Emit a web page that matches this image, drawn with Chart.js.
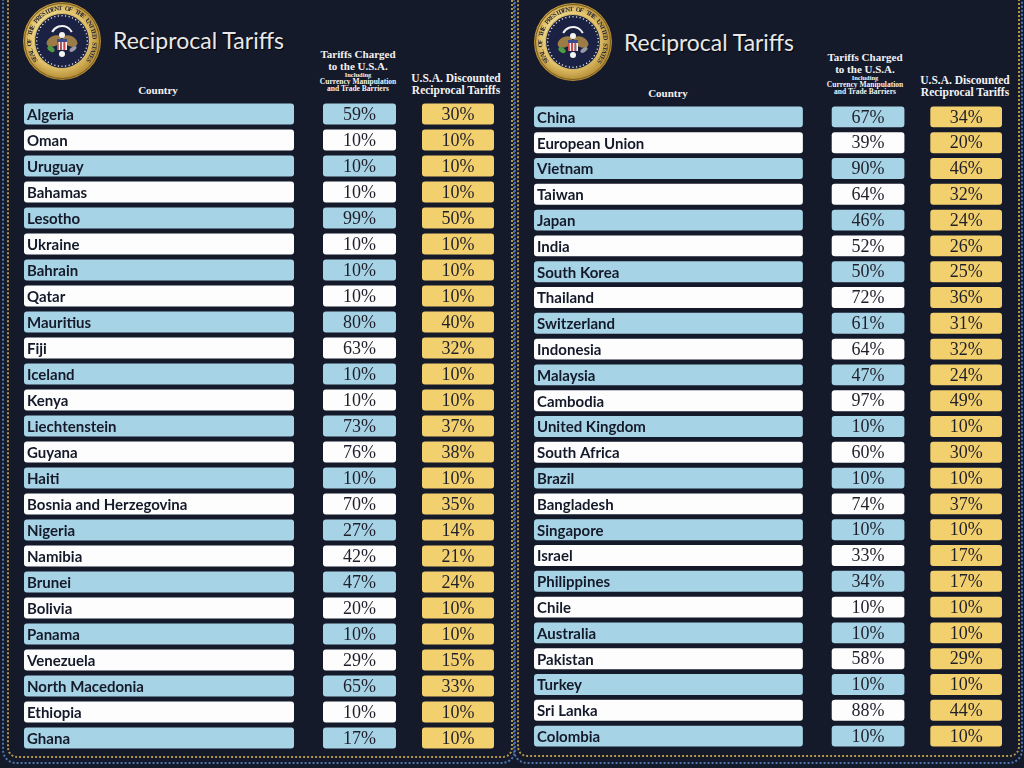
<!DOCTYPE html>
<html>
<head>
<meta charset="utf-8">
<title>Reciprocal Tariffs</title>
<script src="https://cdn.jsdelivr.net/npm/chart.js@4.4.1/dist/chart.umd.min.js"></script>
<style>
  html, body { margin: 0; padding: 0; background: #151a2b; }
  #page { position: relative; width: 1024px; height: 768px; overflow: hidden; background: #151a2b; }
  .frame { position: absolute; box-sizing: border-box; }
  .outer { border: 2px dotted #4d76ad; border-radius: 14px; }
  .inner { border: 2px dotted #b4974d; border-radius: 10px; }
  .hdr { position: absolute; white-space: nowrap; line-height: 1; transform: translate(-50%, -50%);
         color: #f2f2f2; font-family: "Liberation Serif", serif; font-weight: bold; }
  .title { position: absolute; white-space: nowrap; line-height: 1; transform-origin: 0 50%;
           color: #e8e8e8; font-family: Lato, sans-serif; font-size: 24px; text-shadow: 1px 1px 1px #000; }
  canvas { position: absolute; }
</style>
</head>
<body>
<div id="page">
  <div class="frame outer" style="left:2px; top:-30px; width:514px; height:794px;"></div>
  <div class="frame inner" style="left:7px; top:-30px; width:506px; height:788px;"></div>
  <div class="frame outer" style="left:513px; top:-30px; width:510px; height:794px;"></div>
  <div class="frame inner" style="left:517px; top:-30px; width:503px; height:787px;"></div>

  <canvas id="sealLeft" class="seal" width="84" height="84" style="left:20px; top:-1px;"></canvas>
  <canvas id="sealRight" class="seal" width="84" height="84" style="left:531px; top:0px;"></canvas>

  <div id="titleLeft" class="title" style="left:113px; top:40px;">Reciprocal Tariffs</div>
  <div id="titleRight" class="title" style="left:624px; top:42px;">Reciprocal Tariffs</div>

  <div style="position:absolute; left:24px; top:101px; width:470px; height:650px;">
    <canvas id="tableLeft"></canvas>
  </div>
  <div style="position:absolute; left:534px; top:104px; width:468px; height:645px;">
    <canvas id="tableRight"></canvas>
  </div>
</div>

<script>
const leftCountries = [
  "Algeria", "Oman", "Uruguay", "Bahamas", "Lesotho", "Ukraine", "Bahrain", "Qatar",
  "Mauritius", "Fiji", "Iceland", "Kenya", "Liechtenstein", "Guyana", "Haiti",
  "Bosnia and Herzegovina", "Nigeria", "Namibia", "Brunei", "Bolivia", "Panama",
  "Venezuela", "North Macedonia", "Ethiopia", "Ghana"
];
const leftCharged = [59, 10, 10, 10, 99, 10, 10, 10, 80, 63, 10, 10, 73, 76, 10, 70, 27, 42, 47, 20, 10, 29, 65, 10, 17];
const leftDiscounted = [30, 10, 10, 10, 50, 10, 10, 10, 40, 32, 10, 10, 37, 38, 10, 35, 14, 21, 24, 10, 10, 15, 33, 10, 10];

const rightCountries = [
  "China", "European Union", "Vietnam", "Taiwan", "Japan", "India", "South Korea",
  "Thailand", "Switzerland", "Indonesia", "Malaysia", "Cambodia", "United Kingdom",
  "South Africa", "Brazil", "Bangladesh", "Singapore", "Israel", "Philippines", "Chile",
  "Australia", "Pakistan", "Turkey", "Sri Lanka", "Colombia"
];
const rightCharged = [67, 39, 90, 64, 46, 52, 50, 72, 61, 64, 47, 97, 10, 60, 10, 74, 10, 33, 34, 10, 10, 58, 10, 88, 10];
const rightDiscounted = [34, 20, 46, 32, 24, 26, 25, 36, 31, 32, 24, 49, 10, 30, 10, 37, 10, 17, 17, 10, 10, 29, 10, 44, 10];

const LIGHT_BLUE = "#a6d3e5";
const WHITE = "#fdfdfd";
const GOLD = "#f3d06e";
const INK = "#151a2a";

// column extents along the hidden x scale (table layout, not data)
const COLUMN_SPANS = { country: [0, 270], charged: [299, 372], discounted: [398, 470] };

const cellTextPlugin = {
  id: "cellText",
  afterDatasetsDraw(chart) {
    const ctx = chart.ctx;
    chart.data.datasets.forEach((ds, di) => {
      const meta = chart.getDatasetMeta(di);
      ctx.save();
      ctx.font = ds.textFont;
      ctx.fillStyle = ds.textColor;
      ctx.textBaseline = "middle";
      ctx.textAlign = ds.textAlign;
      meta.data.forEach((bar, i) => {
        const left = Math.min(bar.x, bar.base);
        const right = Math.max(bar.x, bar.base);
        const x = ds.textAlign === "left" ? left + 3 : (left + right) / 2;
        ctx.fillText(ds.cellText[i], x, bar.y + 1);
      });
      ctx.restore();
    });
  }
};

function zebra(length) {
  return Array.from({ length }, (_, i) => (i % 2 === 0 ? LIGHT_BLUE : WHITE));
}

function buildTable(canvasId, countries, charged, discounted) {
  const rowColors = zebra(countries.length);
  const common = {
    grouped: false,
    borderRadius: 3,
    borderSkipped: false,
    borderWidth: 0,
    categoryPercentage: 1,
    barPercentage: 0.81
  };
  return new Chart(document.getElementById(canvasId), {
    type: "bar",
    data: {
      labels: countries,
      datasets: [
        {
          ...common,
          label: "Country",
          data: countries.map(() => COLUMN_SPANS.country),
          backgroundColor: rowColors,
          cellText: countries,
          textAlign: "left",
          textFont: "bold 15px Lato, sans-serif",
          textColor: INK
        },
        {
          ...common,
          label: "Tariffs Charged to the U.S.A.",
          data: charged.map(() => COLUMN_SPANS.charged),
          backgroundColor: rowColors,
          cellText: charged.map((v) => v + "%"),
          textAlign: "center",
          textFont: "18px 'Liberation Serif', serif",
          textColor: "#1e1f2a"
        },
        {
          ...common,
          label: "U.S.A. Discounted Reciprocal Tariffs",
          data: discounted.map(() => COLUMN_SPANS.discounted),
          backgroundColor: GOLD,
          cellText: discounted.map((v) => v + "%"),
          textAlign: "center",
          textFont: "18px 'Liberation Serif', serif",
          textColor: "#1e1f2a"
        }
      ]
    },
    options: {
      indexAxis: "y",
      responsive: true,
      maintainAspectRatio: false,
      animation: false,
      layout: { padding: 0 },
      plugins: { legend: { display: false }, tooltip: { enabled: false } },
      scales: {
        x: { type: "linear", min: 0, max: 470, display: false },
        y: { display: false, grid: { display: false } }
      }
    },
    plugins: [cellTextPlugin]
  });
}

function addHeader(text, cx, cy, size) {
  const el = document.createElement("div");
  el.className = "hdr";
  el.textContent = text;
  el.style.left = cx + "px";
  el.style.top = cy + "px";
  el.style.fontSize = size + "px";
  document.getElementById("page").appendChild(el);
}

function drawHeaders(countryX, countryY, chargedX, chargedY, discX, discY) {
  addHeader("Country", countryX, countryY, 11);
  addHeader("Tariffs Charged", chargedX, chargedY, 11);
  addHeader("to the U.S.A.", chargedX, chargedY + 12, 11);
  addHeader("Including", chargedX, chargedY + 20.5, 6.5);
  addHeader("Currency Manipulation", chargedX, chargedY + 27.5, 7.5);
  addHeader("and Trade Barriers", chargedX, chargedY + 35, 7.5);
  addHeader("U.S.A. Discounted", discX, discY, 11.5);
  addHeader("Reciprocal Tariffs", discX, discY + 12, 11.5);
}

function fitWidth(id, width) {
  const el = document.getElementById(id);
  const w = el.getBoundingClientRect().width;
  el.style.transform = "translateY(-50%) scaleX(" + (width / w) + ")";
}

function drawSeal(canvas) {
  const ctx = canvas.getContext("2d");
  const c = canvas.width / 2;
  ctx.translate(c, c);

  const g = ctx.createRadialGradient(-12, -12, 4, 0, 0, 41);
  g.addColorStop(0, "#fbf0b8");
  g.addColorStop(0.7, "#e2c169");
  g.addColorStop(1, "#a8802a");
  ctx.fillStyle = g;
  ctx.beginPath();
  ctx.arc(0, 0, 39, 0, Math.PI * 2);
  ctx.fill();

  ctx.strokeStyle = "#7a5c1c";
  ctx.lineWidth = 1;
  ctx.beginPath();
  ctx.arc(0, 0, 37.5, 0, Math.PI * 2);
  ctx.stroke();

  const ring = "SEAL OF THE PRESIDENT OF THE UNITED STATES";
  ctx.fillStyle = "#2b2a35";
  ctx.font = "bold 6.5px 'Liberation Serif', serif";
  ctx.textAlign = "center";
  ctx.textBaseline = "middle";
  const a0 = Math.PI * 0.8;
  const a1 = Math.PI * 2.2;
  for (let i = 0; i < ring.length; i++) {
    const a = a0 + (a1 - a0) * i / (ring.length - 1);
    ctx.save();
    ctx.rotate(a);
    ctx.translate(32.5, 0);
    ctx.rotate(Math.PI / 2);
    ctx.fillText(ring[i], 0, 0);
    ctx.restore();
  }

  ctx.fillStyle = "#1a2142";
  ctx.beginPath();
  ctx.arc(0, 0, 27.5, 0, Math.PI * 2);
  ctx.fill();
  ctx.strokeStyle = "#d8bb66";
  ctx.lineWidth = 1.2;
  ctx.stroke();

  ctx.fillStyle = "#f4f4f4";
  for (let i = 0; i < 44; i++) {
    const a = (Math.PI * 2 * i) / 44;
    ctx.beginPath();
    ctx.arc(Math.cos(a) * 25.3, Math.sin(a) * 25.3, 0.7, 0, Math.PI * 2);
    ctx.fill();
  }

  // eagle, very roughly
  ctx.strokeStyle = "#f2f2f2";
  ctx.lineWidth = 2;
  ctx.beginPath();
  ctx.arc(0, -4, 11, Math.PI * 1.15, Math.PI * 1.85);
  ctx.stroke();
  ctx.fillStyle = "#9c7c46";
  ctx.beginPath();
  ctx.ellipse(-8, 0, 8, 5, -0.5, 0, Math.PI * 2);
  ctx.ellipse(8, 0, 8, 5, 0.5, 0, Math.PI * 2);
  ctx.fill();
  ctx.fillStyle = "#f3f3f3";
  ctx.beginPath();
  ctx.arc(0, -6, 3, 0, Math.PI * 2);
  ctx.fill();
  for (let i = 0; i < 6; i++) {
    ctx.fillStyle = i % 2 === 0 ? "#d14a4a" : "#f4f4f4";
    ctx.fillRect(-5 + i * 10 / 6, 0, 10 / 6, 9);
  }
  ctx.fillStyle = "#3b4c8c";
  ctx.fillRect(-5, -2, 10, 3);
  ctx.fillStyle = "#4f9a45";
  ctx.beginPath();
  ctx.ellipse(-11, 8, 4, 2.5, 0.6, 0, Math.PI * 2);
  ctx.fill();
  ctx.fillStyle = "#9a9aa6";
  ctx.beginPath();
  ctx.ellipse(11, 8, 4, 2, -0.6, 0, Math.PI * 2);
  ctx.fill();
  ctx.fillStyle = "#f4f4f4";
  ctx.beginPath();
  ctx.arc(0, 13, 3, 0, Math.PI * 2);
  ctx.fill();
}

drawSeal(document.getElementById("sealLeft"));
drawSeal(document.getElementById("sealRight"));

drawHeaders(158, 90, 358, 54, 456, 79);
drawHeaders(668, 93, 865, 57, 965, 81);

fitWidth("titleLeft", 171);
fitWidth("titleRight", 170);

buildTable("tableLeft", leftCountries, leftCharged, leftDiscounted);
buildTable("tableRight", rightCountries, rightCharged, rightDiscounted);
</script>
</body>
</html>
